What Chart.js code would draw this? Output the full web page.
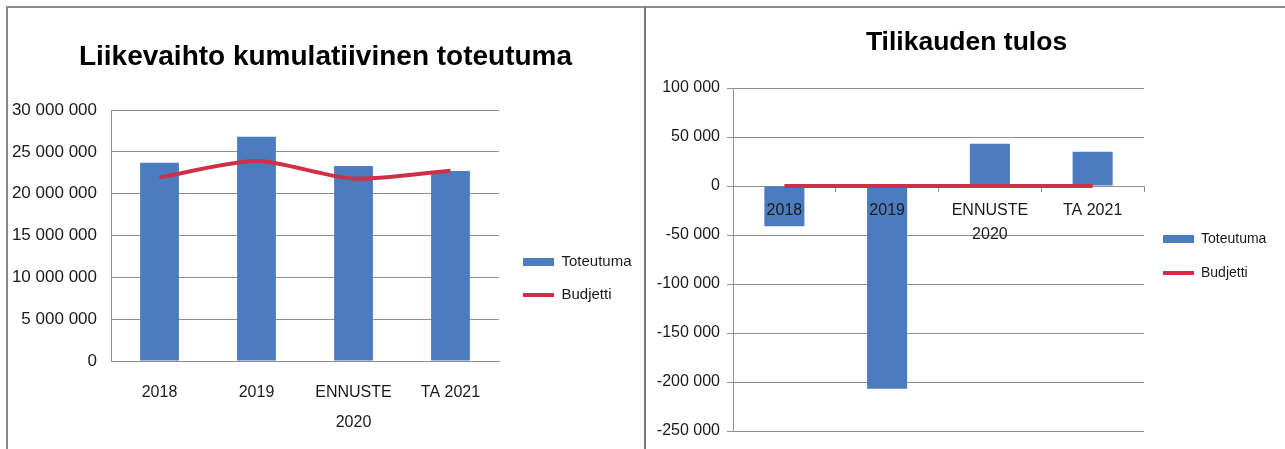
<!DOCTYPE html>
<html><head><meta charset="utf-8">
<script src="https://cdn.jsdelivr.net/npm/chart.js@4/dist/chart.umd.min.js"></script>
<style>
html,body{margin:0;padding:0;background:#fff;}
#frame{position:absolute;left:6px;top:6px;width:1279px;height:443px;border-top:2px solid #8c8c8c;border-left:2px solid #8c8c8c;box-sizing:border-box;}
#divider{position:absolute;left:644px;top:6px;width:2px;height:443px;background:#7a7a7a;}
#c1{position:absolute;left:8px;top:8px;}
#c2{position:absolute;left:648px;top:8px;}
</style></head><body>
<div id="frame"></div><div id="divider"></div>
<canvas id="c1" width="635" height="441"></canvas>
<canvas id="c2" width="637" height="441"></canvas>
<script>
// Shared categories
const categories = ['2018', '2019', ['ENNUSTE', '2020'], 'TA 2021'];

// Liikevaihto (cumulative revenue)
const revenueActual = [23700000, 26800000, 23300000, 22700000];
const revenueBudget = [21950000, 23900000, 21800000, 22750000];
const revenueAxis = { min: 0, max: 30000000, step: 5000000 };

// Tilikauden tulos (result for the period)
const resultActual = [-41000, -207000, 43000, 35000];
const resultBudget = [0, 0, 0, 0];
const resultAxis = { min: -250000, max: 100000, step: 50000 };

const FONT = "'Liberation Sans', Arial, sans-serif";
const BLUE = '#4a7cbf';
const RED = '#cf2f47';
const GRID = '#8f8f8f';
const TEXT = '#1a1a1a';

function spaced(v) {
  const s = String(Math.abs(v)).replace(/\B(?=(\d{3})+(?!\d))/g, ' ');
  return (v < 0 ? '-' : '') + s;
}

// Moves the legend so its first entry sits at the given point (canvas px)
const legendPlacer = {
  id: 'legendPlacer',
  afterUpdate(chart, args, opts) {
    const lg = chart.legend;
    if (!lg || !lg.legendHitBoxes || !lg.legendHitBoxes.length) return;
    const hb = lg.legendHitBoxes[0];
    const dx = opts.x - hb.left;
    const dy = opts.y - (hb.top + hb.height / 2);
    lg.left += dx; lg.right += dx; lg.top += dy; lg.bottom += dy;
    lg.legendHitBoxes.forEach(b => { b.left += dx; b.top += dy; });
  }
};

function legendOpts(size, pad) {
  return {
    position: 'chartArea',
    align: 'start',
    labels: {
      usePointStyle: true,
      pointStyleWidth: 31,
      boxHeight: 8,
      padding: pad,
      color: TEXT,
      font: { family: FONT, size: size },
      sort: (a, b) => a.datasetIndex - b.datasetIndex
    }
  };
}

// Empty right-hand axis that reserves room for the legend column
function legendSpace(width) {
  return {
    type: 'linear', position: 'right', display: true,
    grid: { display: false }, border: { display: false }, ticks: { display: false },
    afterFit: s => { s.width = width; }
  };
}

new Chart(document.getElementById('c1'), {
  data: {
    labels: categories,
    datasets: [
      { type: 'bar', label: 'Toteutuma', data: revenueActual, backgroundColor: BLUE,
        borderWidth: 0, pointStyle: 'rect', order: 2,
        categoryPercentage: 1, barPercentage: 0.4 },
      { type: 'line', label: 'Budjetti', data: revenueBudget, borderColor: RED,
        backgroundColor: RED, borderWidth: 4, pointRadius: 0, pointStyle: 'line',
        tension: 0.25, order: 1 }
    ]
  },
  options: {
    responsive: false, animation: false,
    layout: { padding: 0 },
    plugins: {
      title: { display: true, text: 'Liikevaihto kumulatiivinen toteutuma', color: '#000',
        font: { family: FONT, size: 28, weight: 'bold' }, padding: { top: 32, bottom: 36.4 } },
      legend: legendOpts(15, 18),
      tooltip: { enabled: false },
      legendPlacer: { x: 515, y: 254 }
    },
    scales: {
      x: {
        grid: { display: true, drawOnChartArea: false, drawTicks: false },
        border: { display: true, color: GRID, width: 1 },
        ticks: { color: TEXT, padding: 17, font: { family: FONT, size: 16, lineHeight: 1.875 } },
        afterFit: s => { s.height = 88; }
      },
      y: {
        min: revenueAxis.min, max: revenueAxis.max,
        grid: { color: GRID, drawTicks: false },
        border: { display: true, color: GRID, width: 1 },
        ticks: { stepSize: revenueAxis.step, color: TEXT, padding: 14,
          font: { family: FONT, size: 17 }, callback: v => spaced(v) },
        afterFit: s => { s.width = 103; }
      },
      side: legendSpace(144)
    }
  },
  plugins: [legendPlacer]
});

new Chart(document.getElementById('c2'), {
  data: {
    labels: categories,
    datasets: [
      { type: 'bar', label: 'Toteutuma', data: resultActual, backgroundColor: BLUE,
        borderWidth: 0, pointStyle: 'rect', order: 2,
        categoryPercentage: 1, barPercentage: 0.39 },
      { type: 'line', label: 'Budjetti', data: resultBudget, borderColor: RED,
        backgroundColor: RED, borderWidth: 4, pointRadius: 0, pointStyle: 'line', order: 1 }
    ]
  },
  options: {
    responsive: false, animation: false,
    layout: { padding: { left: 0, right: 0, top: 0, bottom: 18 } },
    plugins: {
      title: { display: true, text: 'Tilikauden tulos', color: '#000',
        font: { family: FONT, size: 26.5, weight: 'bold' }, padding: { top: 19, bottom: 29.2 } },
      legend: legendOpts(14, 20),
      tooltip: { enabled: false },
      legendPlacer: { x: 515, y: 231 }
    },
    scales: {
      x: {
        position: { y: 0 },
        grid: { display: true, drawOnChartArea: false, drawTicks: true, tickLength: 5, color: GRID },
        border: { display: true, color: GRID, width: 1 },
        ticks: { z: 1, color: TEXT, padding: 8, font: { family: FONT, size: 16, lineHeight: 1.5 } }
      },
      y: {
        min: resultAxis.min, max: resultAxis.max,
        grid: { color: GRID, drawTicks: true, tickLength: 6 },
        border: { display: true, color: GRID, width: 1 },
        ticks: { stepSize: resultAxis.step, color: TEXT, padding: 7,
          font: { family: FONT, size: 16 }, callback: v => spaced(v) },
        afterFit: s => { s.width = 85; }
      },
      side: legendSpace(141)
    }
  },
  plugins: [legendPlacer]
});
</script>
</body></html>
